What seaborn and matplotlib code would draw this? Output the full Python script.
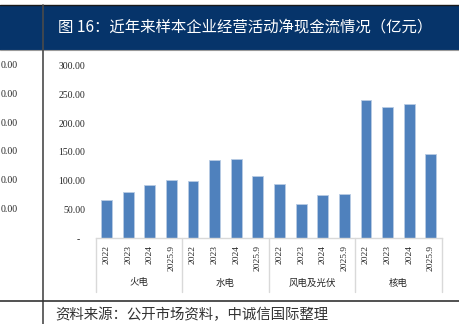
import matplotlib
matplotlib.use("Agg")
import matplotlib.pyplot as plt
import matplotlib.transforms as mtransforms
from matplotlib.lines import Line2D
from matplotlib.patches import Rectangle
import seaborn as sns
import pandas as pd

# ---- data ----
groups = ["火电", "水电", "风电及光伏", "核电"]
years = ["2022", "2023", "2024", "2025.9"]
thermal = [66.5, 80.0, 92.5, 101.5]
hydro = [99.0, 136.0, 138.0, 108.0]
wind_solar = [94.0, 60.0, 75.0, 77.0]
nuclear = [240.0, 229.0, 233.0, 146.0]
ytick_vals = [0, 50, 100, 150, 200, 250, 300]
ytick_labels = ["-  ", "50.00", "100.00", "150.00", "200.00", "250.00", "300.00"]
left_partial_labels = ["0.00", "0.00", "0.00", "0.00", "0.00", "0.00"]
title = "图 16：近年来样本企业经营活动净现金流情况（亿元）"
source = "资料来源：公开市场资料，中诚信国际整理"

series = [thermal, hydro, wind_solar, nuclear]
rows = []
for g, vals in zip(groups, series):
    for y, v in zip(years, vals):
        rows.append({"key": f"{g}-{y}", "group": g, "year": y, "value": v})
df = pd.DataFrame(rows)

sns.set_theme(style="white")
plt.rcParams["font.family"] = ["Liberation Serif", "Noto Sans CJK SC", "DejaVu Sans"]
cjk = ["Noto Sans CJK SC", "DejaVu Sans"]

W, H = 460, 324
fig = plt.figure(figsize=(W / 100, H / 100), dpi=100)

def fx(px):
    return px / W

def fy(py):
    return 1 - py / H

# axes placement
ax_l, ax_r, ax_t, ax_b = 95.7, 441.7, 65.7, 238.3
ax = fig.add_axes([fx(ax_l), fy(ax_b), fx(ax_r - ax_l), (ax_b - ax_t) / H])

sns.barplot(data=df, x="key", y="value", color="#4f81bd", width=0.5,
            edgecolor="#b8cce4", linewidth=0.6, saturation=1, ax=ax)
ax.set_xlim(-0.5, len(df) - 0.5)
ax.set_ylim(0, 300)
ax.set_xlabel("")
ax.set_ylabel("")
for s in ["top", "right", "left"]:
    ax.spines[s].set_visible(False)
ax.spines["bottom"].set_color("#d9d9d9")
ax.spines["bottom"].set_linewidth(1.0)
ax.set_yticks(ytick_vals)
ax.set_yticklabels(ytick_labels, fontsize=7, color="#262626")
ax.tick_params(axis="y", length=0, pad=7.7)
ax.set_xticks(range(len(df)))
ax.set_xticklabels(df["year"], rotation=90, fontsize=6.8, color="#262626", va="top")
ax.tick_params(axis="x", length=0, pad=4.5)

# group separators and labels
trans = mtransforms.blended_transform_factory(ax.transData, ax.transAxes)
sep_bottom = -(292 - ax_b) / (ax_b - ax_t)
for i in range(len(groups) + 1):
    xpos = i * len(years) - 0.5
    ax.add_line(Line2D([xpos, xpos], [0, sep_bottom], transform=trans,
                       color="#d9d9d9", lw=1.0, clip_on=False))
lab_y = -(283 - ax_b) / (ax_b - ax_t)
for i, g in enumerate(groups):
    xc = i * len(years) + (len(years) - 1) / 2
    ax.text(xc, lab_y, g, transform=trans, ha="center", va="center",
            fontsize=6.8, color="#262626", family=cjk)

# partial neighbouring chart labels on the far left (only visible part)
for v, lab in zip(ytick_vals[1:], left_partial_labels):
    ypx = ax_b - v * (ax_b - ax_t) / 300
    fig.text(fx(17.5), fy(ypx), lab, ha="right", va="center", fontsize=7, color="#262626")

# title bar
fig.patches.append(Rectangle((0, fy(49.5)), 1, (49.5 - 5) / H, transform=fig.transFigure,
                             facecolor="#06346a", edgecolor="none", zorder=0))
fig.add_artist(Line2D([0, 1], [fy(5), fy(5)], transform=fig.transFigure, color="#1a1a1a", lw=1.0))
fig.add_artist(Line2D([0, 1], [fy(50), fy(50)], transform=fig.transFigure, color="#9a9a9a", lw=0.8))
fig.text(fx(58), fy(27), title, ha="left", va="center", fontsize=11.1, color="white", family=cjk)

# vertical divider and bottom line
fig.add_artist(Line2D([fx(43), fx(43)], [fy(5), 0], transform=fig.transFigure, color="#4a4a4a", lw=1.2))
fig.add_artist(Line2D([0, 1], [fy(300.7), fy(300.7)], transform=fig.transFigure, color="#333333", lw=1.2))

fig.text(fx(55), fy(315), source, ha="left", va="center", fontsize=10.4,
         color="#333333", family=cjk, style="italic")

fig.savefig("out.png", dpi=100)
